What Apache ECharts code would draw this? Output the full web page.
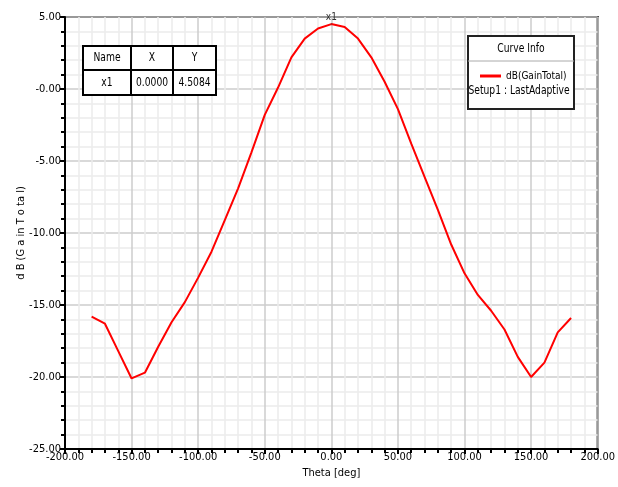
<!DOCTYPE html>
<html>
<head>
<meta charset="utf-8">
<script src="https://cdn.jsdelivr.net/npm/echarts@6/dist/echarts.min.js"></script>
<style>
html, body { margin: 0; padding: 0; background: #fff; }
#main { width: 618px; height: 487px; }
</style>
</head>
<body>
<div id="main"></div>
<script>
"use strict";
var theta = [-180, -170, -160, -150, -140, -130, -120, -110, -100, -90, -80, -70, -60, -50, -40, -30, -20, -10,
    0, 10, 20, 30, 40, 50, 60, 70, 80, 90, 100, 110, 120, 130, 140, 150, 160, 170, 180];
var gainTotal = [-15.8, -16.3, -18.2, -20.1, -19.7, -17.9, -16.2, -14.8, -13.1, -11.3, -9.1, -6.9, -4.4, -1.8, 0.1, 2.2, 3.5, 4.2,
    4.5084, 4.3, 3.5, 2.2, 0.5, -1.4, -3.8, -6.1, -8.4, -10.8, -12.8, -14.3, -15.4, -16.7, -18.6, -20.0, -19.0, -16.9, -15.9];
var markerHead = ["Name", "X", "Y"];
var markerRow = ["x1", "0.0000", "4.5084"];
var seriesName = "dB(GainTotal)";

var FONT = "'DejaVu Sans Condensed', 'Liberation Sans', sans-serif";
var chartDom = document.getElementById('main');
var myChart = echarts.init(chartDom);

var points = theta.map(function (t, i) { return [t, gainTotal[i]]; });

function label(txt, x, y) {
    // narrow text like the original plot
    return { type: 'text', x: x, y: y, scaleX: 0.85,
        style: { text: txt, fill: '#000', font: '12px ' + FONT, align: 'center', verticalAlign: 'middle' }, z: 102 };
}

// marker table + curve info box
var colX = [83, 131, 173, 216];
var rowY = [46, 70, 95];
var graphic = [];
graphic.push({ type: 'rect', shape: { x: colX[0], y: rowY[0], width: colX[3] - colX[0], height: rowY[2] - rowY[0] },
    style: { fill: '#fff', stroke: '#000', lineWidth: 2 }, z: 100 });
graphic.push({ type: 'line', shape: { x1: colX[0], y1: rowY[1], x2: colX[3], y2: rowY[1] }, style: { stroke: '#000', lineWidth: 2 }, z: 101 });
[1, 2].forEach(function (c) {
    graphic.push({ type: 'line', shape: { x1: colX[c], y1: rowY[0], x2: colX[c], y2: rowY[2] }, style: { stroke: '#000', lineWidth: 2 }, z: 101 });
});
[markerHead, markerRow].forEach(function (row, r) {
    row.forEach(function (txt, c) {
        graphic.push(label(txt, (colX[c] + colX[c + 1]) / 2, (rowY[r] + rowY[r + 1]) / 2));
    });
});
graphic.push({ type: 'rect', shape: { x: 468, y: 36, width: 106, height: 73 },
    style: { fill: '#fff', stroke: '#222', lineWidth: 2 }, z: 100 });
graphic.push({ type: 'line', shape: { x1: 468, y1: 61, x2: 574, y2: 61 }, style: { stroke: '#aaa', lineWidth: 1 }, z: 101 });
graphic.push(label('Curve Info', 521, 49));
graphic.push(label('Setup1 : LastAdaptive', 519, 91));

var option = {
    backgroundColor: '#fff',
    animation: false,
    textStyle: { fontFamily: FONT },
    grid: { left: 65, right: 17, top: 17, bottom: 38, show: true, borderColor: '#000', borderWidth: 2, backgroundColor: 'transparent' },
    legend: {
        data: [seriesName], left: 475, top: 66, itemWidth: 21, itemHeight: 3, itemGap: 4, icon: 'rect',
        textStyle: { fontFamily: FONT, fontSize: 10, color: '#000' }, z: 110
    },
    xAxis: {
        type: 'value', min: -200, max: 200, interval: 50,
        name: 'Theta [deg]', nameLocation: 'middle', nameGap: 19, nameMoveOverlap: false,
        nameTextStyle: { fontFamily: FONT, fontSize: 11, color: '#000' },
        axisLine: { show: true, onZero: false, lineStyle: { color: '#000', width: 2 } },
        axisTick: { show: true, inside: false, length: 5, lineStyle: { color: '#000', width: 2 } },
        minorTick: { show: true, splitNumber: 5, length: 4, lineStyle: { color: '#000', width: 2 } },
        axisLabel: { color: '#000', fontSize: 11, margin: 3, formatter: function (v) { return v.toFixed(2); } },
        splitLine: { show: true, lineStyle: { color: '#cccccc', width: 1.5 } },
        minorSplitLine: { show: true, lineStyle: { color: '#ebebeb', width: 1.5 } }
    },
    yAxis: {
        type: 'value', min: -25, max: 5, interval: 5,
        name: 'd B (G a in T o ta l)', nameLocation: 'middle', nameGap: 38, nameRotate: 90, nameMoveOverlap: false,
        nameTextStyle: { fontFamily: FONT, fontSize: 11, color: '#000' },
        axisLine: { show: true, onZero: false, lineStyle: { color: '#000', width: 2 } },
        axisTick: { show: true, inside: false, length: 5, lineStyle: { color: '#000', width: 2 } },
        minorTick: { show: true, splitNumber: 5, length: 4, lineStyle: { color: '#000', width: 2 } },
        axisLabel: { color: '#000', fontSize: 11, margin: 4, formatter: function (v) { return v === 0 ? '-0.00' : v.toFixed(2); } },
        splitLine: { show: true, lineStyle: { color: '#cccccc', width: 1.5 } },
        minorSplitLine: { show: true, lineStyle: { color: '#ebebeb', width: 1.5 } }
    },
    series: [{
        name: seriesName, type: 'line', data: points, showSymbol: false, smooth: false,
        lineStyle: { color: '#ff0000', width: 2 }, itemStyle: { color: '#ff0000' },
        markPoint: {
            symbol: 'rect', symbolSize: 1,
            data: [{ coord: [0, 4.5084], value: 'x1' }],
            label: { show: true, position: 'top', distance: 1, formatter: 'x1', color: '#333', fontSize: 10, fontFamily: FONT },
            itemStyle: { color: '#555' }
        }
    }],
    graphic: graphic
};
myChart.setOption(option);
</script>
</body>
</html>
